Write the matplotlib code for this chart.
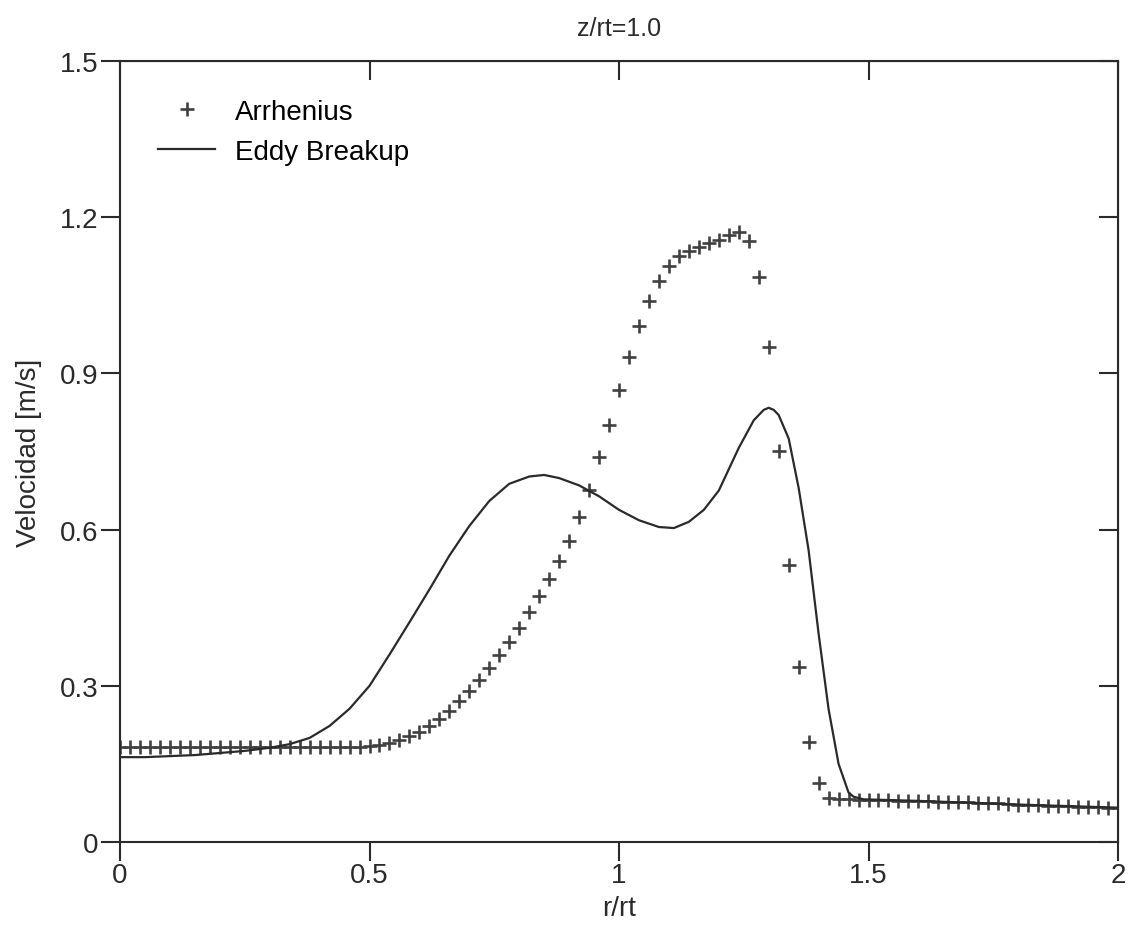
import numpy as np
import matplotlib
matplotlib.use('Agg')
import matplotlib.pyplot as plt

plt.rcParams['font.family'] = ['Liberation Sans', 'DejaVu Sans']

# Arrhenius (markers), sampled every 0.02 in r/rt
arr_r = np.linspace(0, 2, 101)
arr_v = [0.183] * 25 + [
    0.185, 0.187, 0.191, 0.196, 0.203, 0.211, 0.222, 0.236, 0.252, 0.270,
    0.290, 0.312, 0.335, 0.359, 0.385, 0.412, 0.441, 0.472, 0.505, 0.540,
    0.578, 0.624, 0.676, 0.739, 0.800, 0.868, 0.931, 0.991, 1.039, 1.077,
    1.106, 1.125, 1.135, 1.143, 1.150, 1.156, 1.166, 1.172, 1.154, 1.085,
    0.951, 0.751, 0.532, 0.336, 0.192, 0.113, 0.085,
    0.082, 0.082, 0.081, 0.081, 0.080, 0.080, 0.079, 0.079, 0.078, 0.078,
    0.077, 0.077, 0.076, 0.076, 0.075, 0.074, 0.074, 0.073, 0.072, 0.072,
    0.071, 0.070, 0.070, 0.069, 0.068, 0.068, 0.067, 0.066, 0.065]

# Eddy Breakup (line)
edd_r = [0.0, 0.05, 0.10, 0.15, 0.20, 0.25, 0.30, 0.34, 0.38, 0.42, 0.46,
         0.50, 0.54, 0.58, 0.62, 0.66, 0.70, 0.74, 0.78, 0.82, 0.85, 0.88,
         0.92, 0.96, 1.00, 1.04, 1.08, 1.11, 1.14, 1.17, 1.20, 1.24, 1.27,
         1.29, 1.30, 1.31, 1.32, 1.34, 1.36, 1.38, 1.40, 1.42, 1.44, 1.46,
         1.47, 1.49, 1.60, 1.80, 2.00]
edd_v = [0.163, 0.163, 0.165, 0.167, 0.171, 0.175, 0.181, 0.188, 0.200, 0.223, 0.256,
         0.300, 0.360, 0.422, 0.485, 0.550, 0.607, 0.655, 0.688, 0.702, 0.705, 0.699,
         0.685, 0.664, 0.638, 0.618, 0.605, 0.603, 0.615, 0.638, 0.675, 0.757, 0.810,
         0.830, 0.834, 0.830, 0.820, 0.775, 0.680, 0.560, 0.400, 0.255, 0.150, 0.095,
         0.087, 0.082, 0.079, 0.072, 0.066]

ink = '#2a2a2a'

fig = plt.figure(figsize=(11.3, 9.37), dpi=100)
ax = fig.add_axes([0.1062, 0.1003, 0.8832, 0.8335])

ax.plot(arr_r, arr_v, '+', color='#404040', ms=10, mew=1.9, label='Arrhenius')
ax.plot(edd_r, edd_v, '-', color=ink, lw=1.6, label='Eddy Breakup')

ax.set_xlim(0, 2)
ax.set_ylim(0, 1.5)
xt = [0, 0.5, 1, 1.5, 2]
yt = [0, 0.3, 0.6, 0.9, 1.2, 1.5]
ax.set_xticks(xt)
ax.set_xticklabels(['0', '0.5', '1', '1.5', '2'])
ax.set_yticks(yt)
ax.set_yticklabels(['0', '0.3', '0.6', '0.9', '1.2', '1.5'])

for s in ax.spines.values():
    s.set_linewidth(1.5)
    s.set_color(ink)
ax.tick_params(axis='both', direction='out', length=13.5, width=1.5,
               labelsize=20, colors=ink)
ax.tick_params(axis='x', pad=1)
ax.tick_params(axis='y', pad=2)

# mirrored inward ticks on top and right
secx = ax.secondary_xaxis('top')
secx.set_xticks(xt)
secx.tick_params(direction='in', length=14, width=1.5, labeltop=False, colors=ink)
secy = ax.secondary_yaxis('right')
secy.set_yticks(yt)
secy.tick_params(direction='in', length=14, width=1.5, labelright=False, colors=ink)

ax.set_xlabel('r/rt', fontsize=20, color=ink, labelpad=5)
ax.set_ylabel('Velocidad [m/s]', fontsize=20, color=ink, labelpad=13)
ax.set_title('z/rt=1.0', fontsize=18, color=ink, pad=19)

ax.legend(loc='upper left', bbox_to_anchor=(0.027, 0.966), frameon=False,
          fontsize=20, handlelength=2.05, handletextpad=0.72, labelspacing=0.5,
          borderaxespad=0)

fig.savefig('out.png', dpi=100)
